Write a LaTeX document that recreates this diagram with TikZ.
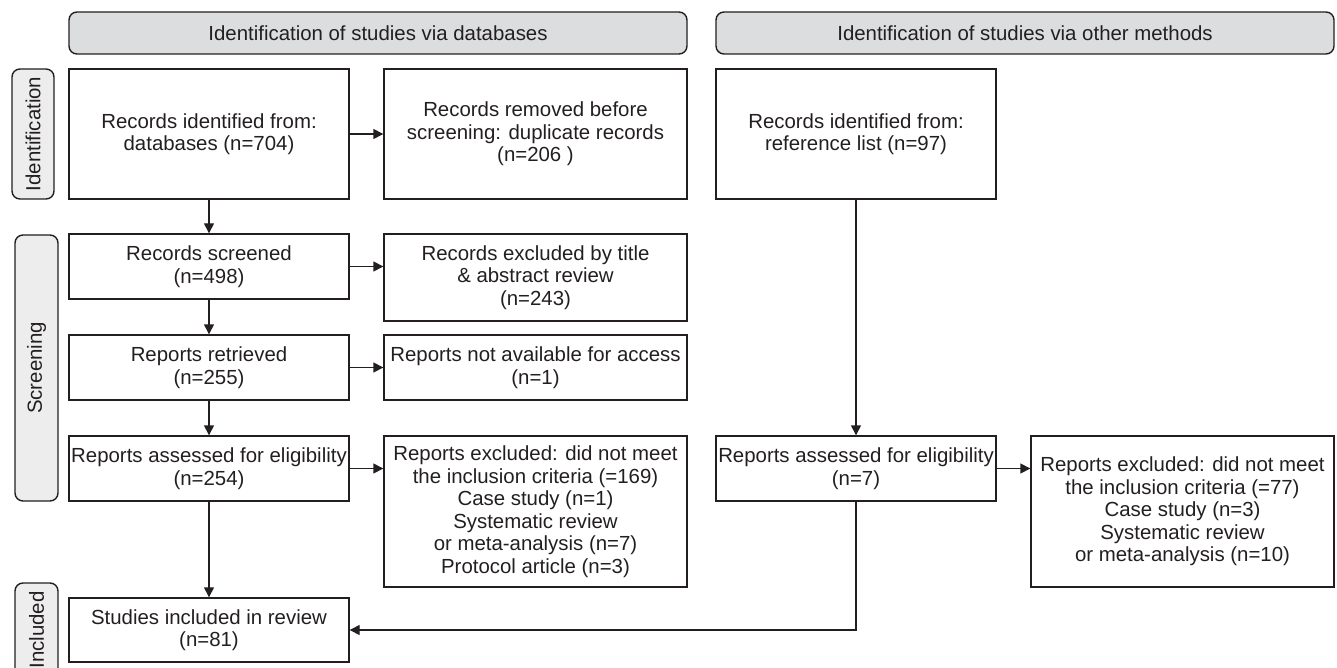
\documentclass[tikz,border=0pt]{standalone}
\usepackage{fontspec}
\setmainfont{Liberation Sans}
\usetikzlibrary{positioning}
\usetikzlibrary{arrows.meta}
\definecolor{ink}{HTML}{231F20}
\definecolor{headgray}{HTML}{DCDDDE}
\definecolor{sidegray}{HTML}{EDEDED}
\tikzset{node distance=101pt, % Vertical step between the left boxes
box/.style={ % Sets the properties for each flow box
draw=ink, line width=1.4pt, text=ink,
align=center, inner sep=2pt,
minimum width=280pt,
font=\fontsize{20.4}{22.5}\selectfont},
widebox/.style={box, minimum width=303pt}, % Boxes for removed / excluded records
header/.style={box, fill=headgray, rounded corners=8pt,
minimum width=618pt, minimum height=42pt},
sidelabel/.style={box, fill=sidegray, rounded corners=8pt,
rotate=90, minimum height=43pt},
flow/.style={ % Sets the properties for each connector
draw=ink, line width=1.4pt,
->,>={Triangle[length=10pt,width=10pt]}}}

\begin{document}
\begin{tikzpicture}[x=1pt, y=1pt]
                \useasboundingbox (0,0) rectangle (1337,-668);
                \clip (0,0) rectangle (1337,-668);

                % headers and stage labels
                \node[header] (hdb) at (378,-33) {Identification of studies via databases};
                \node[header] (hother) at (1025,-33) {Identification of studies via other methods};
                \node[sidelabel, minimum width=130pt, minimum height=42pt] (lid) at (33,-134) {Identification};
                \node[sidelabel, minimum width=266pt] (lscr) at (36.5,-368) {Screening};
                \node[sidelabel, minimum width=94pt] (linc) at (36.5,-630) {Included};

                % databases
                \node[box, minimum height=130pt] (0) at (209,-134) {Records identified from:\\databases (n=704)};
                \node[widebox, minimum height=130pt, right of = 0, xshift=225.5pt] (1) {Records removed before\\screening: duplicate records\\(n=206 )};
                \node[box, minimum height=65pt, below of = 0, yshift=-31.5pt] (2) {Records screened\\(n=498)};
                \node[widebox, minimum height=87pt, right of = 2, xshift=225.5pt, yshift=-11pt] (3) {Records excluded by title\\\& abstract review\\(n=243)};
                \node[box, minimum height=65pt, below of = 2] (4) {Reports retrieved\\(n=255)};
                \node[widebox, minimum height=65pt, right of = 4, xshift=225.5pt] (5) {Reports not available for access\\(n=1)};
                \node[box, minimum height=65pt, below of = 4] (6) {Reports assessed for eligibility\\(n=254)};
                \node[widebox, minimum height=151pt, right of = 6, xshift=225.5pt, yshift=-43pt] (7) {Reports excluded: did not meet\\the inclusion criteria (=169)\\Case study (n=1)\\Systematic review\\or meta-analysis (n=7)\\Protocol article (n=3)};
                \node[box, minimum height=64pt, below of = 6, yshift=-60.5pt] (8) {Studies included in review\\(n=81)};

                % other methods
                \node[box, minimum height=130pt, right of = 1, xshift=219.5pt] (9) {Records identified from:\\reference list (n=97)};
                \node[box, minimum height=65pt, right of = 6, xshift=546pt] (10) {Reports assessed for eligibility\\(n=7)};
                \node[widebox, minimum height=151pt, right of = 10, xshift=225.5pt, yshift=-43pt] (11) {Reports excluded: did not meet\\the inclusion criteria (=77)\\Case study (n=3)\\Systematic review\\or meta-analysis (n=10)};

                \draw[flow] (0) -- (1);
                \draw[flow] (0) -- (2);
                \draw[flow] (2.east) -- (2.east -| 3.west);
                \draw[flow] (2) -- (4);
                \draw[flow] (4) -- (5);
                \draw[flow] (4) -- (6);
                \draw[flow] (6.east) -- (6.east -| 7.west);
                \draw[flow] (6) -- (8);
                \draw[flow] (9) -- (10);
                \draw[flow] (10) -- (11.west |- 10.east);
                \draw[flow] (10.south) |- (8.east);


            \end{tikzpicture}
\end{document}
